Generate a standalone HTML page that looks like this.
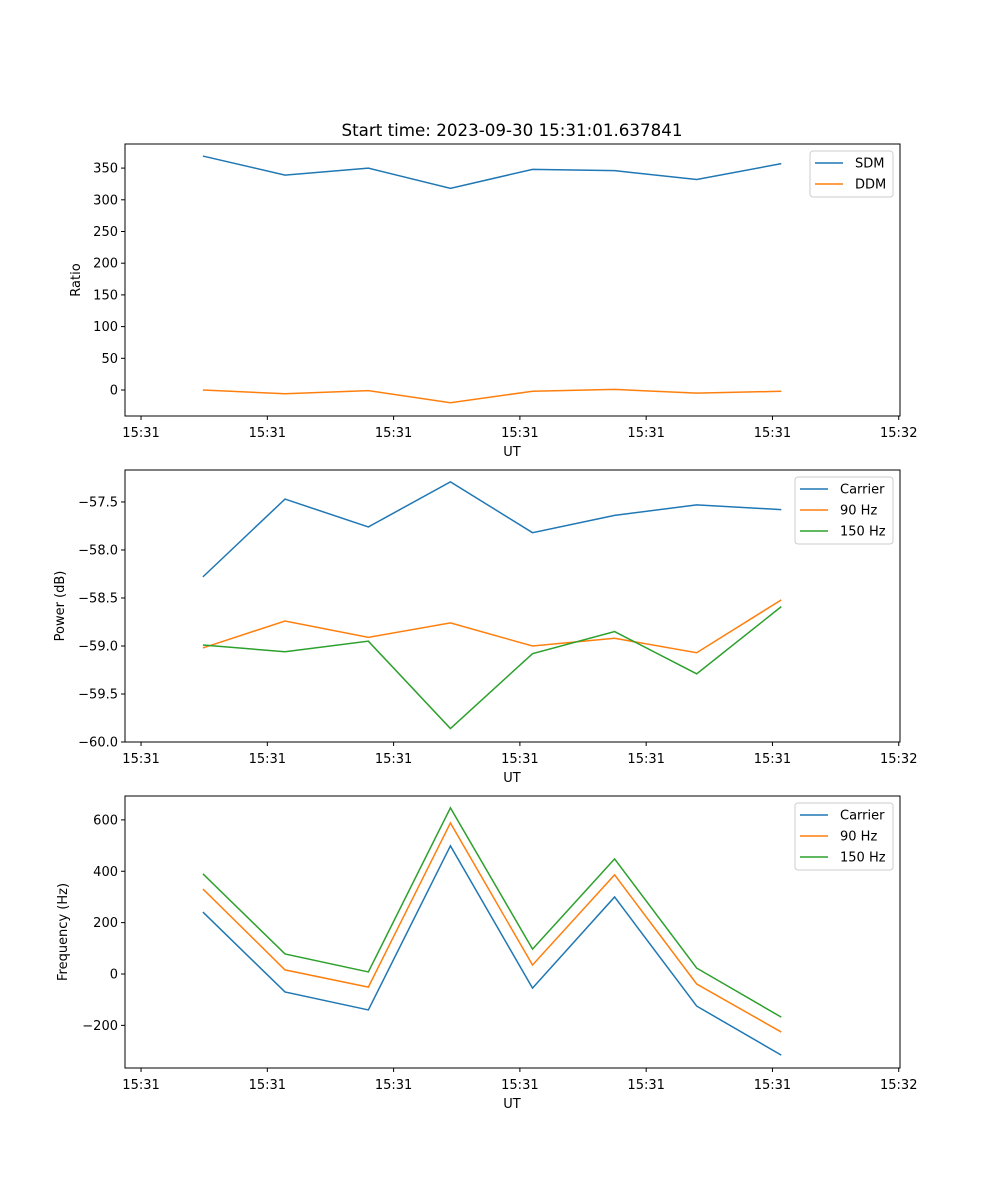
<!DOCTYPE html>
<html><head><meta charset="utf-8"><style>
body{margin:0;background:#fff}
svg{display:block;font-family:"DejaVu Sans","Liberation Sans",sans-serif}
</style></head><body>
<svg id="fig" width="1000" height="1200" viewBox="0 0 1000 1200" xmlns="http://www.w3.org/2000/svg">
<rect width="1000" height="1200" fill="#fff"/>
<text x="512" y="136" font-size="16.7" text-anchor="middle">Start time: 2023-09-30 15:31:01.637841</text>
</svg>
<script>
const times = [0.49, 1.14, 1.80, 2.45, 3.10, 3.75, 4.40, 5.07];
const tickVals = [0, 1, 2, 3, 4, 5, 6];
const tickLabels = ["15:31","15:31","15:31","15:31","15:31","15:31","15:32"];
const sdm = [369, 339, 350, 318, 348, 346, 332, 357];
const ddm = [0, -6, -1, -20, -2, 1, -5, -2];
const powCarrier = [-58.28, -57.47, -57.76, -57.29, -57.82, -57.64, -57.53, -57.58];
const pow90 = [-59.02, -58.74, -58.91, -58.76, -59.0, -58.92, -59.07, -58.52];
const pow150 = [-58.99, -59.06, -58.95, -59.86, -59.08, -58.85, -59.29, -58.59];
const freqCarrier = [241, -70, -140, 499, -55, 300, -125, -316];
const freq90 = [331, 16, -51, 588, 35, 386, -39, -226];
const freq150 = [390, 78, 8, 647, 97, 448, 23, -168];
const ratioTicks = [0, 50, 100, 150, 200, 250, 300, 350];
const powTicks = [-60, -59.5, -59, -58.5, -58, -57.5];
const freqTicks = [-200, 0, 200, 400, 600];

const NS = "http://www.w3.org/2000/svg";
const svg = document.getElementById("fig");
function mk(tag, attrs, parent){const e=document.createElementNS(NS,tag);for(const k in attrs)e.setAttribute(k,attrs[k]);(parent||svg).appendChild(e);return e;}
const X0=125, X1=900, xmin=-0.127, xmax=6.01;
function xs(v){return X0+(v-xmin)/(xmax-xmin)*(X1-X0);}

function panel(name, top, bottom, ymin, ymax, yticks, yfmt, ylabel, series, legend){
  const g=mk("g",{});
  
  
  const ys=v=>bottom-(v-ymin)/(ymax-ymin)*(bottom-top);
  series.forEach(s=>{
    const p=mk("polyline",{points:times.map((t,i)=>xs(t)+","+ys(s.v[i])).join(" "),fill:"none",stroke:s.c,"stroke-width":1.5},g);
    
    
  });
  const fr=mk("rect",{x:X0,y:top,width:X1-X0,height:bottom-top,fill:"none",stroke:"#000","stroke-width":1},g);
  
  
  tickVals.forEach((t,i)=>{
    const x=xs(t);
    mk("line",{x1:x,x2:x,y1:bottom,y2:bottom+4,stroke:"#000"},g);
    const tx=mk("text",{x:x,y:bottom+21,"font-size":13,"text-anchor":"middle"},g);
    tx.textContent=tickLabels[i];
    
    
  });
  yticks.forEach(v=>{
    const y=ys(v);
    mk("line",{x1:X0-4,x2:X0,y1:y,y2:y,stroke:"#000"},g);
    const tx=mk("text",{x:X0-7,y:y+4.5,"font-size":13,"text-anchor":"end"},g);
    tx.textContent=yfmt(v);
    
    
  });
  const xl=mk("text",{x:512,y:bottom+40,"font-size":13,"text-anchor":"middle"},g);
  xl.textContent="UT";
  
  
  const lx=(top+bottom)/2;
  const yl=mk("text",{x:0,y:0,"font-size":13,"text-anchor":"middle",transform:`translate(${legend.ylx},${lx}) rotate(-90)`},g);
  yl.textContent=ylabel;
  
  
  const lg=mk("g",{},g);
  
  
  const n=series.length;
  mk("rect",{x:legend.x,y:top+7,width:legend.w,height:n*21+4,rx:3,fill:"#fff","fill-opacity":0.8,stroke:"#ccc"},lg);
  series.forEach((s,i)=>{
    const y=top+19+i*21;
    mk("line",{x1:legend.x+5,x2:legend.x+33,y1:y,y2:y,stroke:s.c,"stroke-width":1.5},lg);
    const t=mk("text",{x:legend.x+45,y:y+4.5,"font-size":13},lg);
    t.textContent=s.label;
    
    
  });
}
const B="#1f77b4",O="#ff7f0e",G="#2ca02c";
const mn=v=>String(v).replace("-","\u2212");
panel("ratio-panel",144,416,-41,388,ratioTicks,v=>mn(v),"Ratio",
  [{id:"sdm",v:sdm,c:B,label:"SDM"},{id:"ddm",v:ddm,c:O,label:"DDM"}],{x:810,w:83,ylx:80});
panel("power-panel",470,742,-60,-57.167,powTicks,v=>mn(v.toFixed(1)),"Power (dB)",
  [{id:"carrier",v:powCarrier,c:B,label:"Carrier"},{id:"90hz",v:pow90,c:O,label:"90 Hz"},{id:"150hz",v:pow150,c:G,label:"150 Hz"}],{x:795,w:98,ylx:64});
panel("frequency-panel",796,1068,-366,693,freqTicks,v=>mn(v),"Frequency (Hz)",
  [{id:"carrier",v:freqCarrier,c:B,label:"Carrier"},{id:"90hz",v:freq90,c:O,label:"90 Hz"},{id:"150hz",v:freq150,c:G,label:"150 Hz"}],{x:795,w:98,ylx:67});
</script>
</body></html>
